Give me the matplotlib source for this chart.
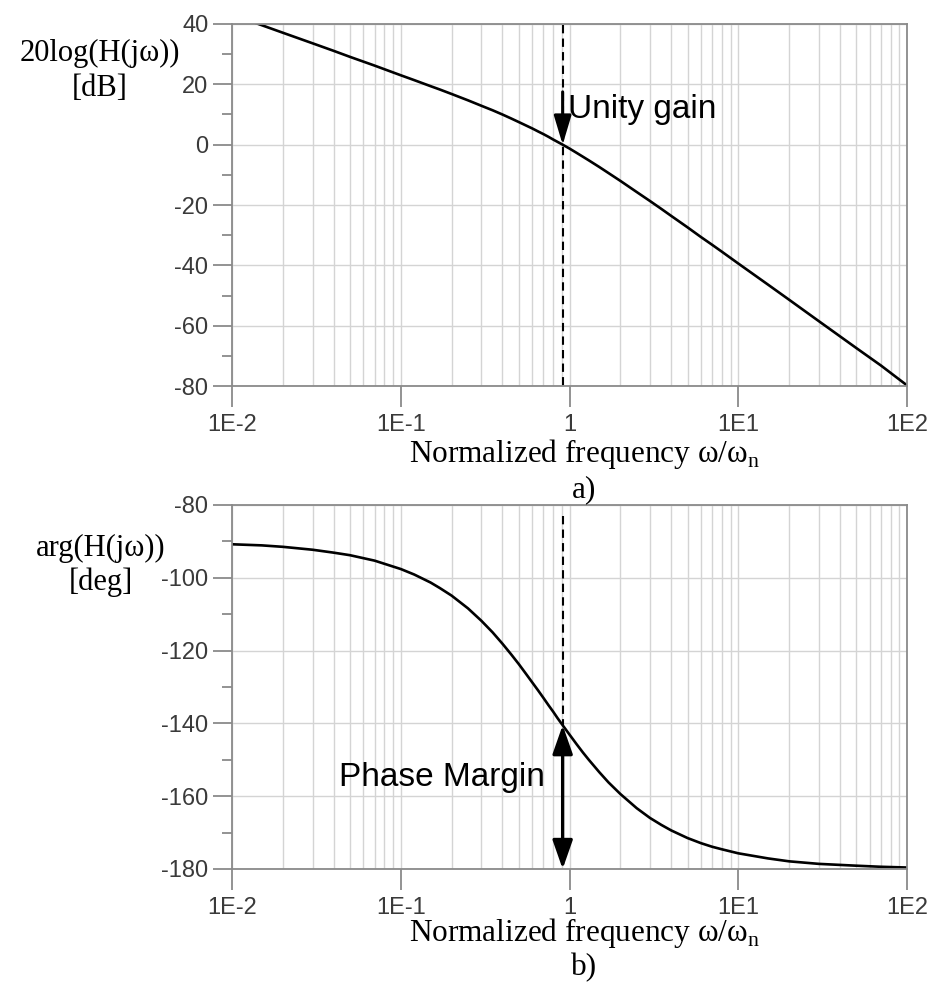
import numpy as np
import matplotlib
matplotlib.use("Agg")
import matplotlib.pyplot as plt
from matplotlib.ticker import FixedLocator, NullFormatter

plt.rcParams['font.family'] = ['Liberation Sans', 'DejaVu Sans']
plt.rcParams['mathtext.fontset'] = 'custom'
plt.rcParams['mathtext.rm'] = 'Liberation Serif'
plt.rcParams['axes.unicode_minus'] = False

# Normalized frequency w/wn where the curves were sampled
freq = [0.01, 0.015, 0.02, 0.03, 0.04, 0.05, 0.07, 0.1, 0.12, 0.15, 0.17, 0.2,
        0.25, 0.3, 0.35, 0.4, 0.45, 0.5, 0.55, 0.6, 0.65, 0.7, 0.75, 0.8, 0.85,
        0.91, 1.0, 1.1, 1.2, 1.3, 1.5, 1.7, 2.0, 2.5, 3.0, 3.5, 4.0, 5.0, 6.0,
        7.0, 8.0, 10.0, 15.0, 20.0, 30.0, 50.0, 70.0, 100.0]

# 20log|H(jw)| in dB
gain_db = [43.1, 39.6, 37.1, 33.6, 31.1, 29.1, 26.2, 23.0, 21.4, 19.4, 18.3, 16.8,
           14.7, 12.9, 11.4, 10.0, 8.7, 7.5, 6.4, 5.4, 4.4, 3.5, 2.6, 1.7, 0.9,
           0.0, -1.3, -2.7, -4.0, -5.2, -7.4, -9.4, -12.0, -15.7, -18.7, -21.3,
           -23.6, -27.4, -30.6, -33.2, -35.5, -39.4, -46.4, -51.4, -58.5, -67.4,
           -73.2, -79.8]

# arg(H(jw)) in degrees
phase_deg = [-90.8, -91.1, -91.5, -92.3, -93.1, -93.8, -95.3, -97.6, -99.1, -101.3,
             -102.8, -104.9, -108.4, -111.8, -115.0, -118.1, -121.0, -123.7, -126.3,
             -128.7, -130.9, -133.0, -135.0, -136.8, -138.6, -140.5, -143.1, -145.7,
             -148.0, -150.0, -153.4, -156.2, -159.4, -163.3, -166.0, -167.9, -169.4,
             -171.5, -172.9, -173.9, -174.6, -175.7, -177.1, -177.9, -178.6, -179.1,
             -179.4, -179.6]

crossover = 0.91          # unity gain frequency
phase_at_crossover = -140.5
phase_floor = -180.0

xtick_vals = [1e-2, 1e-1, 1, 1e1, 1e2]
xtick_labels = ['1E-2', '1E-1', '1', '1E1', '1E2']
minor_x = [m * 10.0 ** e for e in range(-2, 2) for m in range(2, 10)]

GRID = '#d4d4d4'
SPINE = '#8a8a8a'
TICKLBL = '#3a3a3a'
SERIF = ['Liberation Serif', 'DejaVu Serif']


def style_axes(ax, ylim, ymajor, yminor):
    ax.set_xscale('log')
    ax.set_xlim(1e-2, 1e2)
    ax.set_ylim(*ylim)
    ax.set_xticks(xtick_vals)
    ax.set_xticklabels(xtick_labels)
    ax.xaxis.set_minor_locator(FixedLocator(minor_x))
    ax.xaxis.set_minor_formatter(NullFormatter())
    ax.set_yticks(ymajor)
    ax.yaxis.set_minor_locator(FixedLocator(yminor))
    ax.grid(True, which='major', color=GRID, lw=1.0)
    ax.grid(True, which='minor', axis='x', color=GRID, lw=1.0)
    ax.set_axisbelow(True)
    for sp in ax.spines.values():
        sp.set_color(SPINE)
        sp.set_linewidth(1.3)
    ax.tick_params(axis='x', which='major', direction='out', length=15, width=1.3,
                   color=SPINE, pad=5, labelsize=17, labelcolor=TICKLBL)
    ax.tick_params(axis='x', which='minor', length=0)
    ax.tick_params(axis='y', which='major', direction='out', length=14, width=1.3,
                   color=SPINE, pad=3, labelsize=17, labelcolor=TICKLBL)
    ax.tick_params(axis='y', which='minor', direction='out', length=7, width=1.3,
                   color=SPINE)


fig = plt.figure(figsize=(9.36, 9.83), dpi=100)
ax_mag = fig.add_axes([0.2479, 0.6073, 0.7212, 0.3683])
ax_ph = fig.add_axes([0.2479, 0.1160, 0.7212, 0.3703])

# a) magnitude
style_axes(ax_mag, (-80, 40), np.arange(-80, 41, 20), np.arange(-70, 40, 20))
ax_mag.plot(freq, gain_db, color='black', lw=1.9)
ax_mag.plot([crossover, crossover], [39.5, -80], color='black', lw=1.5,
            dashes=(4, 2.5))
ax_mag.annotate('', xy=(crossover, 0), xytext=(crossover, 17.5),
                arrowprops=dict(arrowstyle='-|>,head_length=0.8,head_width=0.24',
                                mutation_scale=22, lw=2.2, color='black',
                                shrinkA=0, shrinkB=0))
ax_mag.text(0.985, 11.5, 'Unity gain', fontsize=24, color='black',
            ha='left', va='center')

# b) phase
style_axes(ax_ph, (-180, -80), np.arange(-180, -79, 20), np.arange(-170, -80, 20))
ax_ph.plot(freq, phase_deg, color='black', lw=1.9)
ax_ph.plot([crossover, crossover], [-83, phase_at_crossover], color='black', lw=1.5,
           dashes=(4, 2.5))
ax_ph.annotate('', xy=(crossover, phase_floor), xytext=(crossover, phase_at_crossover),
               arrowprops=dict(arrowstyle='<|-|>,head_length=0.8,head_width=0.28',
                               mutation_scale=22, lw=2.4, color='black',
                               shrinkA=0, shrinkB=0))
ax_ph.text(0.71, -155, 'Phase Margin', fontsize=24, color='black',
           ha='right', va='center')

# axis titles in serif
fig.text(100 / 936, 1 - 71 / 983, '20log(H(jω))\n[dB]', family=SERIF, fontsize=22,
         ha='center', va='center', linespacing=1.3)
fig.text(101 / 936, 1 - 565 / 983, 'arg(H(jω))\n[deg]', family=SERIF, fontsize=22,
         ha='center', va='center', linespacing=1.2)

xlabel = r'Normalized frequency ω/ω$_\mathrm{n}$'
fig.text(584 / 936, 1 - 462 / 983, xlabel, family=SERIF, fontsize=22.5,
         ha='center', va='baseline')
fig.text(584 / 936, 1 - 497 / 983, 'a)', family=SERIF, fontsize=22.5,
         ha='center', va='baseline')
fig.text(584 / 936, 1 - 941 / 983, xlabel, family=SERIF, fontsize=22.5,
         ha='center', va='baseline')
fig.text(584 / 936, 1 - 975 / 983, 'b)', family=SERIF, fontsize=22.5,
         ha='center', va='baseline')

fig.savefig('out.png', dpi=100)
